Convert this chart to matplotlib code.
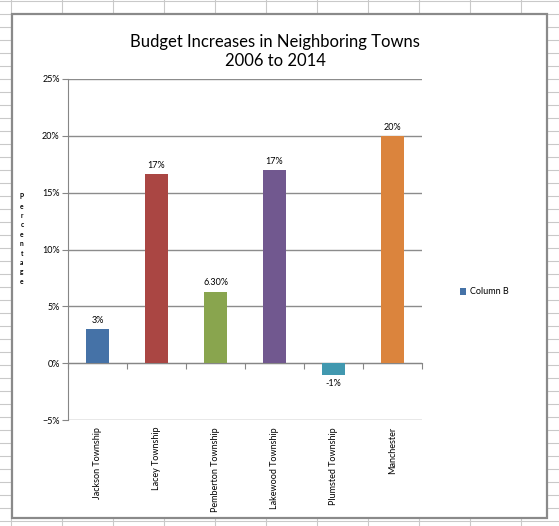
import matplotlib
matplotlib.use("Agg")
import matplotlib.pyplot as plt
from matplotlib.patches import Patch, Rectangle
from matplotlib.ticker import PercentFormatter, FixedLocator

# ---- data ----
towns = ["Jackson Township", "Lacey Township", "Pemberton Township",
         "Lakewood Township", "Plumsted Township", "Manchester"]
values = [0.03, 0.166, 0.063, 0.17, -0.01, 0.20]
value_labels = ["3%", "17%", "6.30%", "17%", "-1%", "20%"]
colors = ["#4572A7", "#AA4643", "#89A54E", "#71588F", "#4198AF", "#DB843D"]
y_ticks = [-0.05, 0.0, 0.05, 0.10, 0.15, 0.20, 0.25]
title = "Budget Increases in Neighboring Towns\n2006 to 2014"
series_name = "Column B"
y_label = "Percentage"

W, H = 559, 526
plt.rcParams["font.family"] = ["Lato", "DejaVu Sans"]
fig = plt.figure(figsize=(W / 100, H / 100), dpi=100)
fig.patch.set_facecolor("white")

# ---- spreadsheet background ----
bg = fig.add_axes([0, 0, 1, 1], zorder=-10)
bg.set_xlim(0, W)
bg.set_ylim(H, 0)
bg.axis("off")
gc = "#c9c9c9"
x = 11
while x < W + 1:
    bg.axvline(x, color=gc, lw=0.8)
    x += 51
y = 1
while y < H + 1:
    bg.axhline(y, color=gc, lw=0.8)
    y += 13
bg.add_patch(Rectangle((12, 14), 535, 504, facecolor="white",
                       edgecolor="#8a8a8a", lw=1.6, zorder=5))

# ---- main chart ----
left, right, top, bottom = 68, 422, 79, 420
ax = fig.add_axes([left / W, 1 - bottom / H, (right - left) / W, (bottom - top) / H])
ax.set_facecolor("none")

xs = list(range(len(towns)))
bars = ax.bar(xs, values, width=0.39, color=colors, zorder=3)
ax.bar_label(bars, labels=value_labels, padding=3, fontsize=6.5)

ax.set_xlim(-0.5, len(towns) - 0.5)
ax.set_ylim(y_ticks[0], y_ticks[-1])
ax.set_yticks(y_ticks)
ax.yaxis.set_major_formatter(PercentFormatter(1.0, decimals=0))
ax.tick_params(axis="y", labelsize=6.5, length=4, color="#868686", pad=2)
ax.grid(axis="y", color="#8c8c8c", lw=1.0, zorder=0)
for s in ["top", "right"]:
    ax.spines[s].set_visible(False)
ax.spines["left"].set_color("#868686")
ax.spines["bottom"].set_position(("data", 0))
ax.spines["bottom"].set_color("#868686")
ax.xaxis.set_major_locator(FixedLocator([i - 0.5 for i in range(len(towns) + 1)]))
ax.tick_params(axis="x", labelbottom=False, length=4, color="#868686", direction="out")

sec = ax.secondary_xaxis(0.0)
sec.set_xticks(xs, towns, rotation=90, fontsize=6.5)
sec.tick_params(length=0, pad=5)
sec.spines["bottom"].set_visible(False)
for lab in sec.get_xticklabels():
    lab.set_verticalalignment("top")

# ---- title / label / legend ----
fig.text(275 / W, 1 - 51.5 / H, title, ha="center", va="center",
         fontsize=12, linespacing=1.25)
fig.text(22 / W, 1 - 239 / H, "\n".join(y_label), ha="center", va="center",
         fontsize=4.8, fontweight="bold", linespacing=1.4)
fig.legend(handles=[Patch(facecolor=colors[0], label=series_name)],
           loc="center left", bbox_to_anchor=(452 / W, 1 - 292 / H),
           frameon=False, fontsize=6.5, handlelength=0.7, handleheight=0.7,
           handletextpad=0.4)

fig.savefig("out.png", dpi=100)
